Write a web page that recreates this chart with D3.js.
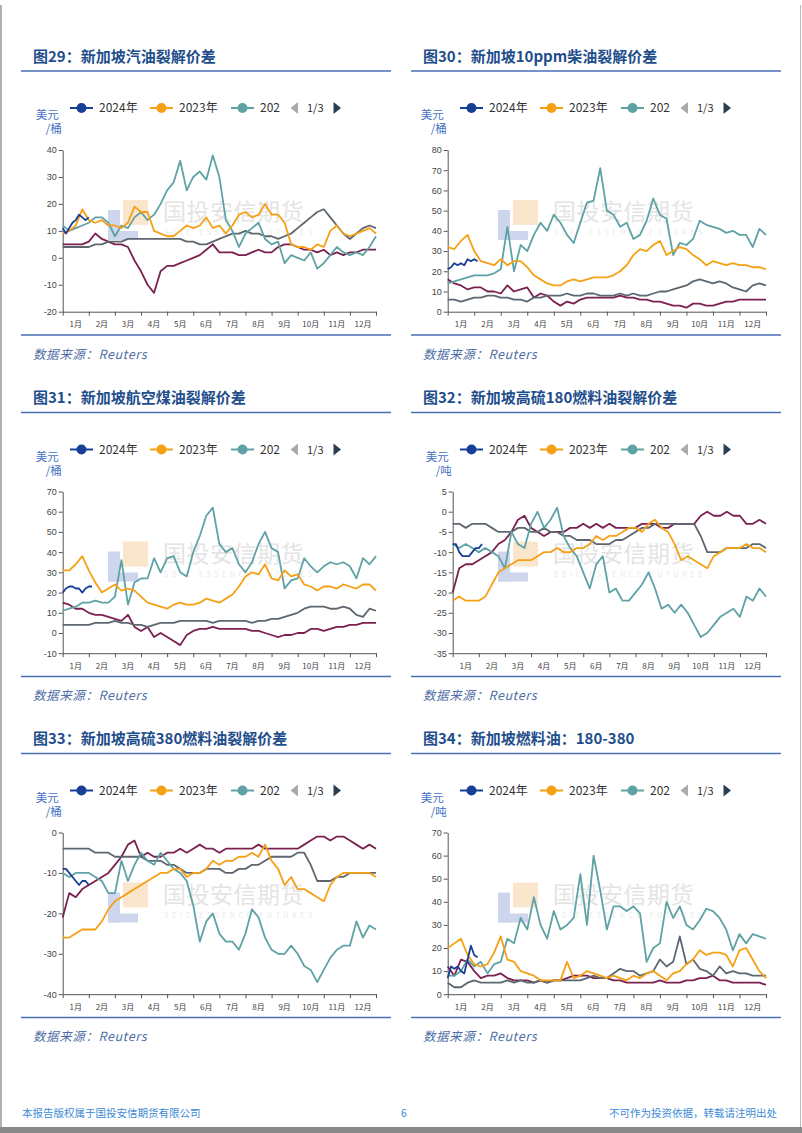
<!DOCTYPE html>
<html><head><meta charset="utf-8">
<script src="https://cdn.jsdelivr.net/npm/d3@7"></script>
<style>
html,body{margin:0;padding:0;background:#fff;}
svg{display:block;font-family:"Noto Sans CJK SC","Noto Sans",sans-serif;}
</style></head><body>
<svg id="page" width="802" height="1133"></svg>
<script>
// ---------- labels ----------
const monthLabels = ['1月','2月','3月','4月','5月','6月','7月','8月','9月','10月','11月','12月'];
const legendLabels = ['2024年','2023年','202'];
const seriesNames = ['2024年','2023年','2022年','2021年','2020年'];
const seriesColors = ['#173f95','#f5a015','#5fa2a5','#5d6770','#7b2150'];
const titles = ['图29：新加坡汽油裂解价差','图30：新加坡10ppm柴油裂解价差','图31：新加坡航空煤油裂解价差',
  '图32：新加坡高硫180燃料油裂解价差','图33：新加坡高硫380燃料油裂解价差','图34：新加坡燃料油：180-380'];
const units = [['美元','/桶'],['美元','/桶'],['美元','/桶'],['美元','/吨'],['美元','/桶'],['美元','/吨']];
const yDomains = [[-20,40],[0,80],[-10,70],[-35,5],[-40,0],[0,70]];
const yTicks = [[-20,-10,0,10,20,30,40],[0,10,20,30,40,50,60,70,80],[-10,0,10,20,30,40,50,60,70],
  [-35,-30,-25,-20,-15,-10,-5,0,5],[-40,-30,-20,-10,0],[0,10,20,30,40,50,60,70]];
const sourceText = '数据来源：Reuters';
const footerLeft = '本报告版权属于国投安信期货有限公司';
const footerMid = '6';
const footerRight = '不可作为投资依据，转载请注明出处';

// ---------- data (2024 sampled every 1/8 month, other years every 1/4 month) ----------
const gas2024 = [11,9,11,13,14,16,15,14,15];
const gas2023 = [9,10,12,18,14,13,14,12,12,11,13,19,17,17,10,9,8,8,10,12,11,12,15,11,12,9,12,16,17,15,16,20,16,16,13,5,4,4,3,5,4,10,12,9,8,9,10,11,9];
const gas2022 = [12,10,11,12,13,15,15,13,8,12,11,15,17,14,16,20,25,28,36,25,30,32,29,38,30,14,10,4,9,11,13,7,5,6,-2,1,0,-1,2,-4,-2,1,4,2,1,2,1,4,8];
const gas2021 = [4,4,4,4,4,5,5,6,6,6,7,7,7,7,7,7,7,7,7,6,6,5,5,6,7,8,9,9,10,9,9,8,8,7,8,9,11,13,15,17,18,15,12,9,7,9,11,12,11];
const gas2020 = [5,5,5,5,6,9,7,6,5,5,4,-1,-5,-10,-13,-5,-3,-3,-2,-1,0,1,3,5,2,2,2,1,1,2,3,2,2,4,5,5,4,3,3,2,3,1,2,1,2,2,3,3,3];

const dsl2024 = [21,22,24,23,24,23,26,25,26,25];
const dsl2023 = [32,31,35,38,30,25,24,23,26,23,25,25,22,18,16,14,13,13,15,16,15,16,17,17,17,18,20,23,28,31,30,33,35,28,30,32,31,28,26,23,25,24,23,24,23,23,22,22,21];
const dsl2022 = [14,15,16,17,18,18,18,19,21,42,20,33,30,38,44,40,48,44,38,34,44,54,55,71,50,48,42,44,36,38,45,56,48,46,28,34,33,36,45,43,42,41,39,40,38,38,32,41,38];
const dsl2021 = [6,6,5,6,7,7,8,8,7,7,6,6,5,7,7,8,8,8,9,8,8,9,9,8,8,8,9,8,9,8,8,9,10,10,11,12,13,15,16,15,14,15,14,12,11,10,13,14,13];
const dsl2020 = [16,14,13,11,12,12,10,10,9,13,10,11,12,7,9,8,5,3,5,4,6,7,7,7,7,7,8,7,7,6,6,5,5,4,3,3,2,4,4,3,3,4,5,5,6,6,6,6,6];

const jet2024 = [20,22,23,23,22,22,20,22,23,23];
const jet2023 = [31,31,34,38,31,25,20,22,24,21,22,21,18,15,14,13,12,14,15,14,14,15,17,16,15,17,19,23,28,30,29,34,27,26,31,28,29,24,23,21,23,23,22,24,23,22,24,24,21];
const jet2022 = [11,12,13,15,15,16,15,15,18,36,14,25,27,27,37,30,37,38,30,28,40,48,58,62,44,40,42,34,30,35,44,50,42,40,22,26,27,37,33,30,33,35,34,35,33,27,37,34,38];
const jet2021 = [4,4,4,4,4,5,5,5,6,5,5,4,4,3,4,5,5,5,6,6,6,6,6,5,6,6,6,6,6,5,6,6,7,7,8,9,10,12,13,13,13,12,12,13,12,9,8,12,11];
const jet2020 = [15,14,12,12,10,9,9,8,7,6,9,3,1,3,-2,0,-2,-4,-6,-1,1,2,2,3,2,2,2,2,2,1,1,0,-1,-2,-1,-1,0,0,2,2,1,2,3,3,4,4,5,5,5];

const h180_2024 = [-8,-8,-10,-11,-11,-11,-10,-9,-9,-8];
const h180_2023 = [-22,-21,-22,-22,-22,-21,-18,-15,-14,-13,-12,-12,-12,-11,-10,-10,-9,-10,-10,-9,-9,-8,-6,-7,-6,-6,-5,-4,-4,-5,-3,-2,-4,-5,-8,-12,-11,-12,-13,-14,-11,-10,-9,-9,-9,-8,-9,-9,-10];
const h180_2022 = [-8,-9,-8,-9,-10,-9,-10,-11,-14,-5,-8,-9,-3,0,-4,-2,1,-6,-9,-11,-15,-19,-13,-11,-20,-19,-22,-22,-20,-18,-15,-19,-24,-23,-25,-23,-25,-28,-31,-30,-28,-26,-25,-24,-26,-21,-22,-19,-21];
const h180_2021 = [-3,-3,-4,-3,-3,-3,-4,-5,-5,-5,-4,-4,-5,-5,-4,-5,-5,-6,-6,-7,-7,-7,-8,-8,-8,-7,-7,-6,-5,-4,-4,-3,-3,-3,-3,-3,-3,-3,-6,-10,-10,-10,-9,-9,-9,-9,-8,-8,-9];
const h180_2020 = [-20,-14,-13,-13,-12,-11,-10,-8,-7,-5,-2,-1,-4,-5,-6,-5,-5,-5,-4,-4,-3,-4,-3,-4,-3,-4,-4,-4,-4,-3,-3,-3,-4,-4,-3,-3,-3,-3,-1,0,-1,-1,0,-1,-1,-3,-3,-2,-3];

const h380_2024 = [-9,-9,-10,-11,-12,-13,-12,-12,-13];
const h380_2023 = [-26,-26,-25,-24,-24,-24,-22,-19,-17,-16,-15,-14,-13,-12,-11,-10,-10,-9,-9,-11,-10,-10,-9,-7,-8,-7,-7,-6,-6,-5,-6,-3,-7,-9,-13,-11,-14,-14,-15,-16,-17,-13,-11,-10,-10,-10,-10,-10,-11];
const h380_2022 = [-10,-11,-10,-10,-10,-11,-12,-15,-15,-7,-12,-8,-5,-7,-8,-5,-7,-9,-10,-12,-18,-27,-22,-20,-25,-27,-27,-29,-25,-19,-21,-26,-29,-30,-30,-28,-30,-33,-34,-37,-34,-31,-29,-28,-28,-22,-26,-23,-24];
const h380_2021 = [-4,-4,-4,-4,-4,-5,-5,-5,-6,-6,-6,-6,-6,-7,-7,-7,-8,-8,-9,-10,-10,-10,-9,-9,-9,-10,-10,-9,-9,-8,-8,-7,-6,-6,-6,-6,-5,-5,-8,-12,-12,-12,-11,-11,-10,-10,-10,-10,-10];
const h380_2020 = [-21,-15,-16,-14,-13,-12,-11,-10,-8,-6,-3,-2,-6,-5,-6,-6,-5,-5,-4,-5,-4,-3,-4,-4,-5,-4,-4,-4,-4,-4,-3,-4,-4,-4,-4,-4,-4,-3,-2,-1,-1,-2,-1,-1,-2,-3,-4,-3,-4];

const spr2024 = [7,12,11,12,10,9,15,21,17,16];
const spr2023 = [20,22,24,17,13,12,13,18,25,15,14,10,9,8,6,6,6,6,14,7,8,10,9,8,7,8,7,6,8,7,9,10,8,6,9,10,13,15,19,17,18,18,17,12,19,20,15,10,7];
const spr2022 = [8,8,10,15,12,14,9,13,14,24,22,33,28,42,30,24,36,28,30,33,52,30,60,45,28,38,38,36,38,35,14,20,22,40,33,38,30,28,32,37,36,33,28,19,26,22,26,25,24];
const spr2021 = [5,3,3,5,6,5,5,5,5,6,5,6,5,5,6,5,6,6,6,6,6,7,8,7,7,9,11,10,10,8,9,10,15,12,14,25,13,15,11,10,8,12,9,10,9,9,8,8,8];
const spr2020 = [12,8,15,14,10,7,8,8,9,7,6,6,6,5,6,5,6,6,7,8,8,8,7,7,7,6,6,5,5,5,5,5,6,5,5,5,6,6,7,7,8,6,6,5,5,5,5,5,4];

const chartSeries = [
  [gas2024,gas2023,gas2022,gas2021,gas2020],
  [dsl2024,dsl2023,dsl2022,dsl2021,dsl2020],
  [jet2024,jet2023,jet2022,jet2021,jet2020],
  [h180_2024,h180_2023,h180_2022,h180_2021,h180_2020],
  [h380_2024,h380_2023,h380_2022,h380_2021,h380_2020],
  [spr2024,spr2023,spr2022,spr2021,spr2020]
];
const seriesStep = [0.125,0.25,0.25,0.25,0.25];

// ---------- layout ----------
const colX = [20, 410];
const rowOff = [0, 341.5, 682.5];
const plotLeft = [62.7, 447.7, 62.7, 452.7, 62.7, 447.7];
const plotRight = [376, 766];
const plotTop = 150, plotBottom = 311.7;

const svg = d3.select('#page');
svg.append('rect').attr('width',802).attr('height',1133).attr('fill','#fff');

chartSeries.forEach((series, k) => {
  const col = k % 2, row = Math.floor(k / 2);
  const bx = colX[col], ro = rowOff[row];
  const g = svg.append('g');

  // title
  g.append('text').attr('x', bx + 13).attr('y', 61.5 + ro)
    .attr('font-size', 15).attr('font-weight', 'bold').attr('fill', '#1f4e8c')
    .text(titles[k]);
  g.append('line').attr('x1', bx + 1).attr('x2', bx + 371).attr('y1', 71 + ro).attr('y2', 71 + ro)
    .attr('stroke', '#4a6fb5').attr('stroke-width', 1.5);
  g.append('line').attr('x1', bx + 1).attr('x2', bx + 371).attr('y1', 335 + ro).attr('y2', 335 + ro)
    .attr('stroke', '#4a6fb5').attr('stroke-width', 1.5);
  g.append('text').attr('x', bx + 13).attr('y', 358.5 + ro)
    .attr('font-size', 12.5).attr('font-style', 'italic').attr('fill', '#4f6fa6')
    .attr('letter-spacing', 0.6)
    .text(sourceText);

  // watermark
  const wm = g.append('g');
  wm.append('rect').attr('x', bx + 103).attr('y', 200 + ro).attr('width', 25).attr('height', 25).attr('fill', '#f9e6cc');
  wm.append('rect').attr('x', bx + 88).attr('y', 210 + ro).attr('width', 12).attr('height', 30).attr('fill', '#cdd6ec');
  wm.append('rect').attr('x', bx + 88).attr('y', 231 + ro).attr('width', 30).attr('height', 9).attr('fill', '#cdd6ec');
  wm.append('text').attr('x', bx + 143).attr('y', 220 + ro).attr('font-size', 23).attr('fill', '#e4e4e4')
    .attr('letter-spacing', 0.5).text('国投安信期货');
  wm.append('text').attr('x', bx + 144).attr('y', 235 + ro).attr('font-size', 7).attr('fill', '#eaeaea')
    .attr('letter-spacing', 3.6).text('SDIC ESSENCE FUTURES');

  // legend
  const ly = 108 + ro;
  const legX = [50, 130, 211];
  legendLabels.forEach((lab, i) => {
    const sx = bx + legX[i];
    g.append('line').attr('x1', sx).attr('x2', sx + 23).attr('y1', ly).attr('y2', ly)
      .attr('stroke', seriesColors[i]).attr('stroke-width', 2);
    g.append('circle').attr('cx', sx + 11.5).attr('cy', ly).attr('r', 5).attr('fill', seriesColors[i]);
    g.append('text').attr('x', sx + 29).attr('y', ly + 4.2).attr('font-size', 12).attr('fill', '#333').text(lab);
  });
  g.append('path').attr('d', `M${bx+278},${ly-6}L${bx+278},${ly+6}L${bx+270.5},${ly}Z`).attr('fill', '#aaa');
  g.append('text').attr('x', bx + 287).attr('y', ly + 4).attr('font-size', 11).attr('fill', '#333').text('1/3');
  g.append('path').attr('d', `M${bx+313.5},${ly-6}L${bx+313.5},${ly+6}L${bx+321},${ly}Z`).attr('fill', '#2c3e50');

  // unit
  const ax = plotLeft[k];
  g.append('text').attr('x', ax - 4).attr('y', 119 + ro).attr('text-anchor', 'end')
    .attr('font-size', 11.5).attr('fill', '#4472c4').text(units[k][0]);
  g.append('text').attr('x', ax - 1).attr('y', 133 + ro).attr('text-anchor', 'end')
    .attr('font-size', 11.5).attr('fill', '#4472c4').text(units[k][1]);

  // scales
  const x = d3.scaleLinear().domain([0, 12]).range([ax, plotRight[col]]);
  const y = d3.scaleLinear().domain(yDomains[k]).range([plotBottom + ro, plotTop + ro]);

  const yAxis = g.append('g').attr('transform', `translate(${ax},0)`)
    .call(d3.axisLeft(y).tickValues(yTicks[k]).tickSize(4).tickSizeOuter(0).tickFormat(d => String(d)));
  yAxis.select('.domain').attr('stroke', '#555');
  yAxis.selectAll('.tick line').attr('stroke', '#555');
  yAxis.selectAll('.tick text').attr('font-size', 9).attr('fill', '#444')
    .attr('font-family', '"Liberation Sans","DejaVu Sans",sans-serif').attr('x', -6);

  const xAxis = g.append('g').attr('transform', `translate(0,${plotBottom + ro})`)
    .call(d3.axisBottom(x).tickValues(d3.range(13)).tickSize(4).tickSizeOuter(0).tickFormat(''));
  xAxis.select('.domain').attr('stroke', '#555');
  xAxis.selectAll('.tick line').attr('stroke', '#555');
  monthLabels.forEach((m, i) => {
    g.append('text').attr('x', x(i + 0.5)).attr('y', 327 + ro).attr('text-anchor', 'middle')
      .attr('font-size', 8).attr('fill', '#444').text(m);
  });

  // lines (older years first, 2024 on top)
  const line = d3.line().x(d => x(d[0])).y(d => y(d[1]));
  [4, 3, 2, 1, 0].forEach(si => {
    const vals = series[si];
    const pts = vals.map((v, i) => [i * seriesStep[si], v]);
    g.append('path').datum(pts).attr('d', line).attr('fill', 'none')
      .attr('stroke', seriesColors[si]).attr('stroke-width', 1.8)
      .attr('stroke-linejoin', 'round').attr('data-name', seriesNames[si]);
  });
});

// footer
svg.append('text').attr('x', 22).attr('y', 1117).attr('font-size', 10.5).attr('fill', '#3b8ad6').text(footerLeft);
svg.append('text').attr('x', 404).attr('y', 1117).attr('text-anchor', 'middle').attr('font-size', 10.5).attr('fill', '#3b8ad6').text(footerMid);
svg.append('text').attr('x', 777).attr('y', 1117).attr('text-anchor', 'end').attr('font-size', 10.5).attr('fill', '#3b8ad6').text(footerRight);

// page border
svg.append('line').attr('x1', 1).attr('x2', 1).attr('y1', 5).attr('y2', 1128).attr('stroke', '#999').attr('stroke-width', 1.5);
svg.append('line').attr('x1', 800.5).attr('x2', 800.5).attr('y1', 5).attr('y2', 1128).attr('stroke', '#bbb').attr('stroke-width', 1);
svg.append('rect').attr('x', 0).attr('y', 1127).attr('width', 802).attr('height', 6).attr('fill', '#8a8a8a');
</script>
</body></html>
